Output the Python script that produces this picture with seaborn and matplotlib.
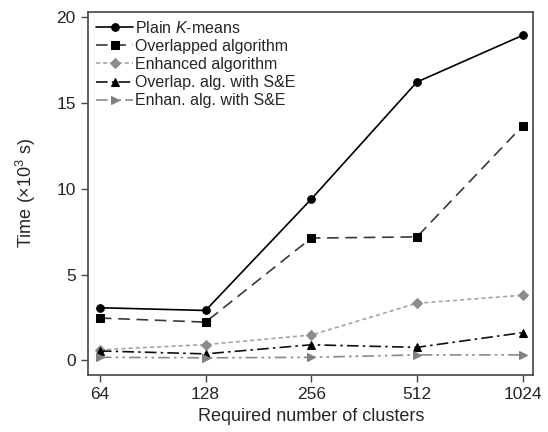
import pandas as pd
import seaborn as sns
import matplotlib.pyplot as plt

clusters = ["64", "128", "256", "512", "1024"]
plain = [3.07, 2.91, 9.40, 16.23, 18.95]
overlapped = [2.47, 2.23, 7.13, 7.20, 13.67]
enhanced = [0.62, 0.92, 1.48, 3.33, 3.80]
overlap_se = [0.55, 0.38, 0.91, 0.76, 1.62]
enhan_se = [0.18, 0.15, 0.18, 0.32, 0.32]

sns.set_style("ticks")
plt.rcParams['font.family'] = ['Liberation Sans', 'DejaVu Sans']
plt.rcParams['mathtext.fontset'] = 'custom'
plt.rcParams['mathtext.rm'] = 'Liberation Sans'
plt.rcParams['mathtext.it'] = 'Liberation Sans:italic'
plt.rcParams['mathtext.default'] = 'regular'

# label, values, line colour, marker colour, marker, marker size, dashes
series = [
    ("Plain $\\mathit{K}$-means", plain, "black", "black", "o", 5.5, None),
    ("Overlapped algorithm", overlapped, "#3a3a3a", "black", "s", 5.5, (7, 4)),
    ("Enhanced algorithm", enhanced, "#a5a5a5", "#8c8c8c", "D", 5, (2.5, 1.8)),
    ("Overlap. alg. with S&E", overlap_se, "#111111", "black", "^", 6, (7, 2.5, 1.5, 2.5)),
    ("Enhan. alg. with S&E", enhan_se, "#8a8a8a", "#808080", ">", 6, (7, 2.5, 1.5, 2.5, 1.5, 2.5)),
]

pos = list(range(len(clusters)))
fig, ax = plt.subplots(figsize=(5.48, 4.32), dpi=100)
for label, vals, col, mcol, mk, ms, dash in series:
    df = pd.DataFrame(dict(x=pos, y=vals))
    sns.lineplot(data=df, x="x", y="y", ax=ax, color=col, marker=mk,
                 markersize=ms, markeredgecolor=mcol, markerfacecolor=mcol,
                 linewidth=1.2, label=label)
    if dash is not None:
        ax.lines[-1].set_dashes(dash)

ax.set_xticks(pos)
ax.set_xticklabels(clusters)
ax.set_xlim(-0.11, 4.1)
ax.set_ylim(-0.85, 20.33)
ax.set_yticks([0, 5, 10, 15, 20])
ax.tick_params(labelsize=12.5, direction="out", length=5, width=1, color="#444444", pad=4)
ax.set_xlabel("Required number of clusters", fontsize=13, labelpad=4)
ax.set_ylabel("Time (×10$^{3}$ s)", fontsize=13, labelpad=13)
for s in ax.spines.values():
    s.set_linewidth(1.2)
    s.set_color("#444444")

ax.legend(loc="upper left", frameon=False, fontsize=11.5, handlelength=2.3,
          handletextpad=0.1, labelspacing=0.2, borderaxespad=0.2,
          borderpad=0.3)

fig.subplots_adjust(left=0.161, right=0.973, top=0.973, bottom=0.132)
fig.savefig("out.png", dpi=100)
